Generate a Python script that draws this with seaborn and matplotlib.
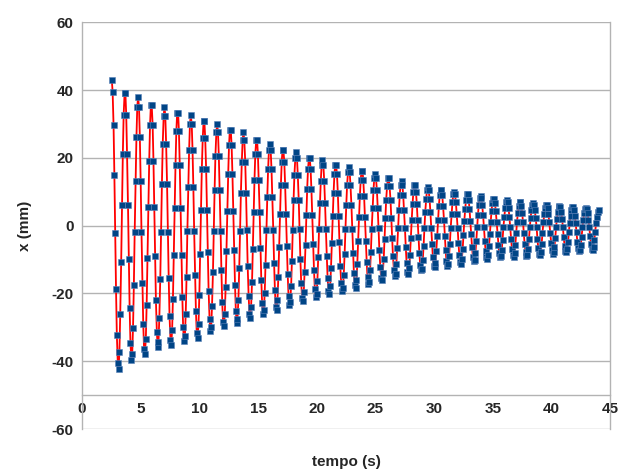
import matplotlib
matplotlib.use('Agg')
import matplotlib.pyplot as plt
import seaborn as sns
import pandas as pd

# tempo (s) of each sample
tempo_s = [
    2.53, 2.60, 2.68, 2.75, 2.82, 2.89, 2.96, 3.04, 3.11, 3.18, 3.25, 3.33, 3.40, 3.47, 3.54, 3.62, 3.69, 3.76, 3.83, 3.91, 3.98, 4.05, 4.12, 4.20, 4.27, 4.34, 4.41, 4.48, 4.56, 4.63, 4.70,
    4.77, 4.85, 4.92, 4.99, 5.06, 5.14, 5.21, 5.28, 5.35, 5.43, 5.50, 5.57, 5.64, 5.72, 5.79, 5.86, 5.93, 6.01, 6.08, 6.15, 6.22, 6.29, 6.37, 6.44, 6.51, 6.58, 6.66, 6.73, 6.80, 6.87, 6.95,
    7.02, 7.09, 7.16, 7.24, 7.31, 7.38, 7.45, 7.53, 7.60, 7.67, 7.74, 7.81, 7.89, 7.96, 8.03, 8.10, 8.18, 8.25, 8.32, 8.39, 8.47, 8.54, 8.61, 8.68, 8.76, 8.83, 8.90, 8.97, 9.05, 9.12, 9.19,
    9.26, 9.34, 9.41, 9.48, 9.55, 9.63, 9.70, 9.77, 9.84, 9.92, 9.99, 10.06, 10.13, 10.20, 10.28, 10.35, 10.42, 10.49, 10.57, 10.64, 10.71, 10.78, 10.86, 10.93, 11.00, 11.07, 11.15, 11.22, 11.29, 11.36, 11.44,
    11.51, 11.58, 11.65, 11.72, 11.80, 11.87, 11.94, 12.01, 12.09, 12.16, 12.23, 12.30, 12.38, 12.45, 12.52, 12.59, 12.67, 12.74, 12.81, 12.88, 12.96, 13.03, 13.10, 13.17, 13.24, 13.32, 13.39, 13.46, 13.53, 13.61, 13.68,
    13.75, 13.82, 13.90, 13.97, 14.04, 14.11, 14.19, 14.26, 14.33, 14.40, 14.48, 14.55, 14.62, 14.69, 14.76, 14.84, 14.91, 14.98, 15.05, 15.13, 15.20, 15.27, 15.34, 15.42, 15.49, 15.56, 15.63, 15.71, 15.78, 15.85, 15.92,
    16.00, 16.07, 16.14, 16.21, 16.29, 16.36, 16.43, 16.50, 16.57, 16.65, 16.72, 16.79, 16.86, 16.94, 17.01, 17.08, 17.15, 17.23, 17.30, 17.37, 17.44, 17.52, 17.59, 17.66, 17.73, 17.81, 17.88, 17.95, 18.02, 18.09, 18.17,
    18.24, 18.31, 18.38, 18.46, 18.53, 18.60, 18.67, 18.75, 18.82, 18.89, 18.96, 19.04, 19.11, 19.18, 19.25, 19.33, 19.40, 19.47, 19.54, 19.61, 19.69, 19.76, 19.83, 19.90, 19.98, 20.05, 20.12, 20.19, 20.27, 20.34, 20.41,
    20.48, 20.56, 20.63, 20.70, 20.77, 20.85, 20.92, 20.99, 21.06, 21.14, 21.21, 21.28, 21.35, 21.43, 21.50, 21.57, 21.64, 21.72, 21.79, 21.86, 21.93, 22.00, 22.08, 22.15, 22.22, 22.29, 22.37, 22.44, 22.51, 22.58, 22.66,
    22.73, 22.80, 22.87, 22.95, 23.02, 23.09, 23.16, 23.24, 23.31, 23.38, 23.45, 23.52, 23.60, 23.67, 23.74, 23.81, 23.89, 23.96, 24.03, 24.10, 24.18, 24.25, 24.32, 24.39, 24.47, 24.54, 24.61, 24.68, 24.76, 24.83, 24.90,
    24.97, 25.04, 25.12, 25.19, 25.26, 25.33, 25.41, 25.48, 25.55, 25.62, 25.70, 25.77, 25.84, 25.91, 25.99, 26.06, 26.13, 26.20, 26.28, 26.35, 26.42, 26.49, 26.57, 26.64, 26.71, 26.78, 26.85, 26.93, 27.00, 27.07, 27.14,
    27.22, 27.29, 27.36, 27.43, 27.51, 27.58, 27.65, 27.72, 27.80, 27.87, 27.94, 28.01, 28.09, 28.16, 28.23, 28.30, 28.37, 28.45, 28.52, 28.59, 28.66, 28.74, 28.81, 28.88, 28.95, 29.03, 29.10, 29.17, 29.24, 29.32, 29.39,
    29.46, 29.53, 29.61, 29.68, 29.75, 29.82, 29.89, 29.97, 30.04, 30.11, 30.18, 30.26, 30.33, 30.40, 30.47, 30.55, 30.62, 30.69, 30.76, 30.84, 30.91, 30.98, 31.05, 31.13, 31.20, 31.27, 31.34, 31.41, 31.49, 31.56, 31.63,
    31.71, 31.78, 31.85, 31.92, 32.00, 32.07, 32.14, 32.21, 32.28, 32.36, 32.43, 32.50, 32.57, 32.65, 32.72, 32.79, 32.86, 32.94, 33.01, 33.08, 33.15, 33.23, 33.30, 33.37, 33.44, 33.52, 33.59, 33.66, 33.73, 33.80, 33.88,
    33.95, 34.02, 34.09, 34.17, 34.24, 34.31, 34.38, 34.46, 34.53, 34.60, 34.67, 34.75, 34.82, 34.89, 34.96, 35.04, 35.11, 35.18, 35.25, 35.32, 35.40, 35.47, 35.54, 35.61, 35.69, 35.76, 35.83, 35.90, 35.98, 36.05, 36.12,
    36.19, 36.27, 36.34, 36.41, 36.48, 36.56, 36.63, 36.70, 36.77, 36.85, 36.92, 36.99, 37.06, 37.13, 37.21, 37.28, 37.35, 37.42, 37.50, 37.57, 37.64, 37.71, 37.79, 37.86, 37.93, 38.00, 38.08, 38.15, 38.22, 38.29, 38.37,
    38.44, 38.51, 38.58, 38.65, 38.73, 38.80, 38.87, 38.94, 39.02, 39.09, 39.16, 39.23, 39.31, 39.38, 39.45, 39.52, 39.60, 39.67, 39.74, 39.81, 39.89, 39.96, 40.03, 40.10, 40.17, 40.25, 40.32, 40.39, 40.46, 40.54, 40.61,
    40.68, 40.75, 40.83, 40.90, 40.97, 41.04, 41.12, 41.19, 41.26, 41.33, 41.41, 41.48, 41.55, 41.62, 41.69, 41.77, 41.84, 41.91, 41.98, 42.06, 42.13, 42.20, 42.27, 42.35, 42.42, 42.49, 42.56, 42.64, 42.71, 42.78, 42.85,
    42.93, 43.00, 43.07, 43.14, 43.22, 43.29, 43.36, 43.43, 43.51, 43.58, 43.65, 43.72, 43.80, 43.87, 43.94, 44.01,
]

# x (mm) of each sample
x_mm = [
    43.0, 39.5, 29.6, 14.9, -2.2, -18.7, -32.3, -40.5, -42.3, -37.2, -26.0, -10.6, 6.0, 21.0, 32.7, 39.0, 39.0, 32.7, 21.0, 6.0, -9.9, -24.3, -34.7, -39.5, -37.9, -30.1, -17.5, -2.0, 13.2, 26.1, 34.9,
    38.0, 34.9, 26.1, 13.2, -1.9, -16.8, -29.0, -36.4, -38.0, -33.4, -23.4, -9.6, 5.5, 19.2, 29.8, 35.6, 35.6, 29.8, 19.2, 5.5, -9.0, -22.0, -31.5, -35.8, -34.3, -27.3, -15.8, -1.8, 12.2, 24.1, 32.3,
    35.1, 32.3, 24.1, 12.2, -1.8, -15.5, -26.8, -33.7, -35.1, -30.9, -21.6, -8.8, 5.1, 18.0, 27.9, 33.3, 33.3, 27.9, 18.0, 5.1, -8.6, -21.0, -30.0, -34.1, -32.7, -26.0, -15.1, -1.7, 11.3, 22.4, 30.0,
    32.6, 30.0, 22.4, 11.3, -1.7, -14.7, -25.3, -31.8, -33.1, -29.1, -20.4, -8.3, 4.7, 16.6, 25.8, 30.8, 30.8, 25.8, 16.6, 4.7, -7.9, -19.2, -27.5, -31.2, -30.0, -23.8, -13.8, -1.6, 10.4, 20.6, 27.5,
    29.9, 27.5, 20.6, 10.4, -1.5, -13.1, -22.6, -28.4, -29.7, -26.1, -18.2, -7.5, 4.4, 15.3, 23.7, 28.3, 28.3, 23.7, 15.3, 4.4, -7.2, -17.6, -25.1, -28.6, -27.4, -21.8, -12.6, -1.5, 9.5, 18.9, 25.3,
    27.5, 25.3, 18.9, 9.5, -1.4, -12.0, -20.7, -26.0, -27.2, -23.9, -16.7, -6.8, 3.9, 13.6, 21.2, 25.3, 25.3, 21.2, 13.6, 3.9, -6.6, -16.0, -22.9, -26.1, -25.0, -19.9, -11.5, -1.3, 8.4, 16.6, 22.2,
    24.2, 22.2, 16.6, 8.4, -1.3, -11.0, -19.0, -23.9, -24.9, -21.9, -15.3, -6.3, 3.5, 12.1, 18.8, 22.4, 22.4, 18.8, 12.1, 3.5, -5.9, -14.4, -20.7, -23.5, -22.5, -17.9, -10.4, -1.2, 7.5, 14.9, 19.9,
    21.6, 19.9, 14.9, 7.5, -1.1, -9.8, -16.9, -21.3, -22.2, -19.5, -13.6, -5.6, 3.1, 10.8, 16.7, 20.0, 20.0, 16.7, 10.8, 3.1, -5.3, -13.0, -18.6, -21.2, -20.3, -16.2, -9.4, -1.1, 6.7, 13.3, 17.8,
    19.4, 17.8, 13.3, 6.7, -1.0, -8.9, -15.4, -19.4, -20.2, -17.8, -12.4, -5.1, 2.8, 9.7, 15.1, 18.0, 18.0, 15.1, 9.7, 2.8, -4.9, -11.9, -17.0, -19.3, -18.5, -14.7, -8.5, -1.0, 6.0, 11.9, 15.9,
    17.3, 15.9, 11.9, 6.0, -0.9, -8.1, -14.0, -17.6, -18.3, -16.1, -11.3, -4.6, 2.5, 8.7, 13.5, 16.2, 16.2, 13.5, 8.7, 2.5, -4.4, -10.6, -15.2, -17.3, -16.6, -13.2, -7.7, -0.9, 5.3, 10.5, 14.1,
    15.3, 14.1, 10.5, 5.3, -0.8, -7.1, -12.2, -15.4, -16.0, -14.1, -9.9, -4.0, 2.2, 7.6, 11.7, 14.0, 14.0, 11.7, 7.6, 2.2, -3.7, -9.1, -13.0, -14.8, -14.2, -11.3, -6.6, -0.8, 4.6, 9.1, 12.1,
    13.2, 12.1, 9.1, 4.6, -0.7, -6.3, -10.9, -13.6, -14.2, -12.5, -8.8, -3.6, 1.8, 6.4, 10.0, 12.0, 12.0, 10.0, 6.4, 1.8, -3.3, -8.1, -11.6, -13.2, -12.7, -10.1, -5.9, -0.7, 4.0, 7.8, 10.5,
    11.4, 10.5, 7.8, 4.0, -0.6, -5.5, -9.4, -11.8, -12.3, -10.9, -7.6, -3.1, 1.6, 5.7, 8.9, 10.6, 10.6, 8.9, 5.7, 1.6, -3.0, -7.3, -10.5, -11.9, -11.4, -9.1, -5.3, -0.6, 3.5, 6.9, 9.2,
    10.0, 9.2, 6.9, 3.5, -0.6, -5.0, -8.6, -10.8, -11.2, -9.9, -6.9, -2.8, 1.4, 5.0, 7.7, 9.2, 9.2, 7.7, 5.0, 1.4, -2.6, -6.4, -9.2, -10.4, -10.0, -8.0, -4.6, -0.5, 3.1, 6.1, 8.1,
    8.8, 8.1, 6.1, 3.1, -0.5, -4.4, -7.5, -9.4, -9.9, -8.7, -6.1, -2.5, 1.2, 4.3, 6.7, 8.0, 8.0, 6.7, 4.3, 1.2, -2.4, -5.8, -8.2, -9.4, -9.0, -7.1, -4.1, -0.5, 2.6, 5.2, 6.9,
    7.5, 6.9, 5.2, 2.6, -0.5, -4.0, -7.0, -8.8, -9.2, -8.1, -5.6, -2.3, 1.1, 3.7, 5.7, 6.9, 6.9, 5.7, 3.7, 1.1, -2.3, -5.5, -7.9, -9.0, -8.6, -6.8, -4.0, -0.5, 2.3, 4.5, 6.1,
    6.6, 6.1, 4.5, 2.3, -0.4, -3.9, -6.7, -8.4, -8.8, -7.7, -5.4, -2.2, 1.0, 3.3, 5.2, 6.2, 6.2, 5.2, 3.3, 1.0, -2.1, -5.1, -7.3, -8.3, -7.9, -6.3, -3.7, -0.4, 2.0, 4.1, 5.4,
    5.9, 5.4, 4.1, 2.0, -0.4, -3.5, -6.0, -7.5, -7.9, -6.9, -4.8, -2.0, 0.8, 2.9, 4.5, 5.4, 5.4, 4.5, 2.9, 0.8, -1.9, -4.7, -6.7, -7.6, -7.3, -5.8, -3.3, -0.4, 1.8, 3.6, 4.8,
    5.2, 4.8, 3.6, 1.8, -0.4, -3.1, -5.4, -6.8, -7.1, -6.2, -4.3, -1.8, 0.7, 2.5, 3.9, 4.7,
]

x_ticks = [0, 5, 10, 15, 20, 25, 30, 35, 40, 45]
y_ticks = [-60, -40, -20, 0, 20, 40, 60]

df = pd.DataFrame({'tempo (s)': tempo_s, 'x (mm)': x_mm})

sns.set_style('white')
plt.rcParams['font.family'] = ['Liberation Sans', 'DejaVu Sans']
plt.rcParams['axes.unicode_minus'] = False

fig = plt.figure(figsize=(6.22, 4.73), dpi=100)
ax = fig.add_axes([0.132, 0.093, 0.849, 0.860])

grid_col = '#b3b3b3'
for yv in y_ticks:
    ax.axhline(yv, color=grid_col, lw=1, zorder=0)

sns.lineplot(data=df, x='tempo (s)', y='x (mm)', ax=ax, color='#ff0000',
             lw=1.3, estimator=None, sort=False, zorder=2)
sns.scatterplot(data=df, x='tempo (s)', y='x (mm)', ax=ax, marker='s',
                color='#004586', s=20, edgecolor='#5b82b8', linewidth=0.4, zorder=3)

ax.set_xlim(0, 45)
ax.set_ylim(-60, 60)
ax.set_xticks(x_ticks)
ax.set_yticks(y_ticks)

ax.spines['top'].set_visible(False)
ax.spines['bottom'].set_position(('data', -50))
for s in ['left', 'right', 'bottom']:
    ax.spines[s].set_color(grid_col)
    ax.spines[s].set_linewidth(1)

ax.tick_params(axis='x', direction='in', length=4, color=grid_col, pad=5)
ax.tick_params(axis='y', direction='out', length=4, color=grid_col, pad=2)
for lab in ax.get_xticklabels() + ax.get_yticklabels():
    lab.set_fontweight('bold')
    lab.set_fontsize(11)

ax.set_xlabel('tempo (s)', fontsize=11, fontweight='bold')
ax.set_ylabel('x (mm)', fontsize=11, fontweight='bold')
ax.xaxis.set_label_coords(0.5, -0.065)
ax.yaxis.set_label_coords(-0.095, 0.5)

plt.savefig('out.png', dpi=100)
